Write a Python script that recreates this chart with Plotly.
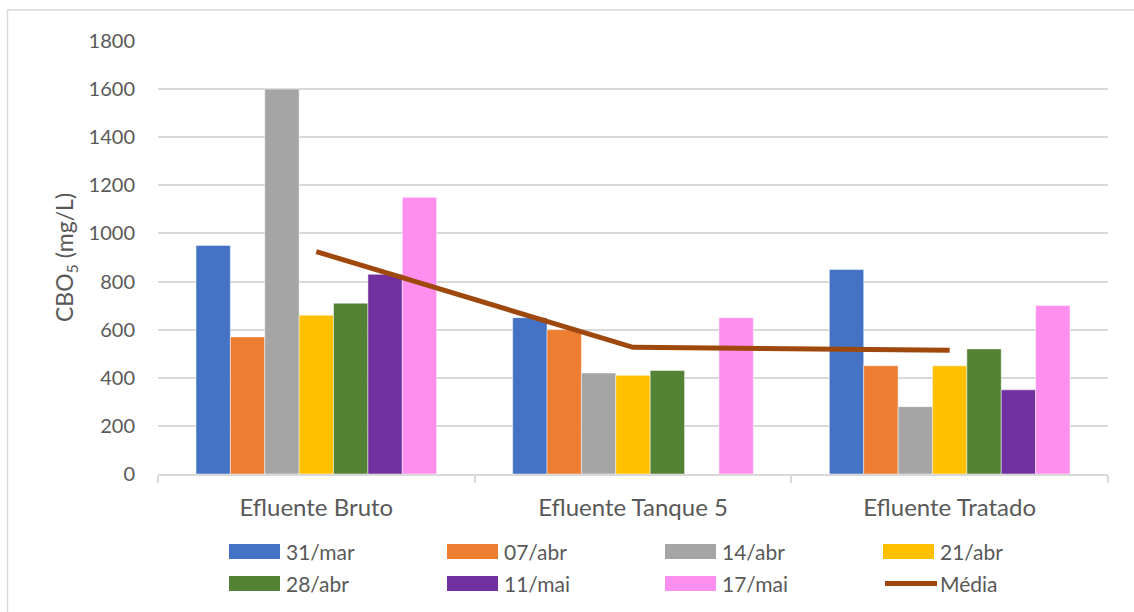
import plotly.graph_objects as go

# Sampling points along the treatment line
categories = ["Efluente Bruto", "Efluente Tanque 5", "Efluente Tratado"]

# CBO5 (mg/L) per sampling date; None = no sample
series_names = ["31/mar", "07/abr", "14/abr", "21/abr", "28/abr", "11/mai", "17/mai"]
v_31mar = [950, 650, 850]
v_07abr = [570, 600, 450]
v_14abr = [1600, 420, 280]
v_21abr = [660, 410, 450]
v_28abr = [710, 430, 520]
v_11mai = [830, None, 350]
v_17mai = [1150, 650, 700]
series_values = [v_31mar, v_07abr, v_14abr, v_21abr, v_28abr, v_11mai, v_17mai]

mean_name = "Média"
y_ticks = [0, 200, 400, 600, 800, 1000, 1200, 1400, 1600, 1800]

colors = ["#4472C4", "#ED7D31", "#A5A5A5", "#FFC000", "#548235", "#7030A0", "#FF8FEE"]
mean_color = "#9E480E"
text_color = "#595959"
grid_color = "#D9D9D9"
font_family = "Lato, 'Open Sans', sans-serif"

# Mean of the available samples at each point
mean_values = []
for i in range(len(categories)):
    vals = [s[i] for s in series_values if s[i] is not None]
    mean_values.append(sum(vals) / len(vals))

W, H = 1134, 612
M_L, M_R, M_T, M_B = 158, 26, 41, 138
PW, PH = W - M_L - M_R, H - M_T - M_B


def px_x(x):
    return (x - M_L) / PW


def px_y(y):
    return (H - M_B - y) / PH


fig = go.Figure()
for name, vals, col in zip(series_names, series_values, colors):
    fig.add_trace(go.Bar(
        x=categories, y=vals, name=name,
        marker=dict(color=col, line=dict(color="rgba(255,255,255,0.6)", width=0.8)),
        showlegend=False,
    ))

fig.add_trace(go.Scatter(
    x=categories, y=mean_values, name=mean_name, mode="lines",
    line=dict(color=mean_color, width=5),
    showlegend=False,
))

# Legend drawn as swatches + labels, 4 columns x 2 rows
legend_cols = [229, 447, 665, 883]
legend_rows = [551.5, 583.5]
shapes = []
annotations = []
entries = list(zip(series_names, colors)) + [(mean_name, mean_color)]
for k, (name, col) in enumerate(entries):
    cx = legend_cols[k % 4]
    cy = legend_rows[k // 4]
    if name == mean_name:
        shapes.append(dict(type="line", xref="paper", yref="paper",
                           x0=px_x(cx + 2), x1=px_x(cx + 54), y0=px_y(cy), y1=px_y(cy),
                           line=dict(color=col, width=5)))
    else:
        shapes.append(dict(type="rect", xref="paper", yref="paper",
                           x0=px_x(cx), x1=px_x(cx + 51), y0=px_y(cy - 7.5), y1=px_y(cy + 7.5),
                           fillcolor=col, line=dict(width=0)))
    annotations.append(dict(text=name, xref="paper", yref="paper",
                            x=px_x(cx + 55), y=px_y(cy), xanchor="left", yanchor="middle",
                            showarrow=False, font=dict(size=21, color=text_color, family=font_family)))

# Chart frame
shapes.append(dict(type="rect", xref="paper", yref="paper",
                   x0=px_x(7.5), x1=px_x(1300), y0=px_y(700), y1=px_y(10),
                   line=dict(color=grid_color, width=1.5), fillcolor="rgba(0,0,0,0)", layer="below"))

fig.update_layout(
    width=W, height=H,
    margin=dict(l=M_L, r=M_R, t=M_T, b=M_B),
    paper_bgcolor="white", plot_bgcolor="white",
    barmode="group", bargap=0.24, bargroupgap=0,
    font=dict(family=font_family, color=text_color, size=20),
    shapes=shapes, annotations=annotations,
    showlegend=False,
)
fig.update_xaxes(
    showline=True, linecolor=grid_color, linewidth=1.5,
    ticks="outside", tickson="boundaries", ticklen=7, tickcolor=grid_color, tickwidth=1.5,
    tickfont=dict(size=24, color=text_color), ticklabelstandoff=11,
)
fig.update_yaxes(
    range=[0, 1800], tickvals=y_ticks,
    showgrid=True, gridcolor=grid_color, gridwidth=1.5,
    zeroline=False, showline=False,
    tickfont=dict(size=20, color=text_color), ticklabelstandoff=22,
    title=dict(text="CBO<sub>5</sub> (mg/L)", font=dict(size=23, color=text_color), standoff=8),
)

fig.write_html("out.html")
